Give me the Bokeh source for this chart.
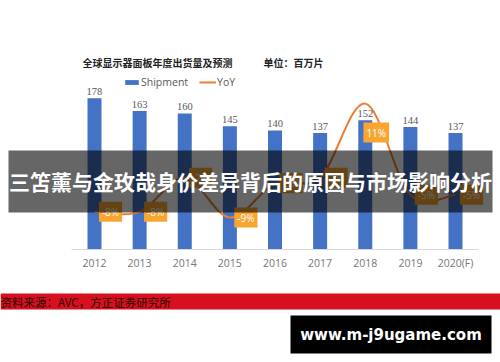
from bokeh.plotting import figure
from bokeh.models import (Range1d, FixedTicker, BoxAnnotation, Label, LabelSet,
                          ColumnDataSource, Legend, LegendItem)
from bokeh.models.glyphs import Text
from bokeh.layouts import column
from bokeh.core.properties import value
from bokeh.embed import file_html
from bokeh.resources import INLINE

# ---------------- data ----------------
years = ["2012", "2013", "2014", "2015", "2016", "2017", "2018", "2019", "2020(F)"]
shipment = [178, 163, 160, 145, 140, 137, 152, 144, 137]
yoy = [-8, -8, -2, -9, -3, -2, 11, -5, -5]

chart_title = "全球显示器面板年度出货量及预测"
unit_text = "单位：百万片"
overlay_title = "三笘薰与金玫哉身价差异背后的原因与市场影响分析"
source_text = "资料来源：AVC，方正证券研究所"
watermark = "www.m-j9ugame.com"

BLUE = "#4472C4"
ORANGE = "#ED7D31"
LABEL_ORANGE = "#F8A532"
CJK = "Noto Sans CJK SC"
LAT = "Open Sans"

xs = list(range(len(years)))

# ---------------- main chart ----------------
p = figure(width=500, height=288, output_backend="svg", toolbar_location=None,
           x_range=Range1d(-2.083, 8.997), y_range=Range1d(0, 292.9),
           y_axis_type=None, min_border_left=0, min_border_right=0,
           min_border_top=0, min_border_bottom=39, outline_line_color=None,
           background_fill_color="white", border_fill_color="white")
p.extra_y_ranges = {"yoy": Range1d(-14.6, 29.07)}
p.xgrid.grid_line_color = None
p.ygrid.grid_line_color = None

bar_src = ColumnDataSource(dict(x=xs, y=shipment, lab=[str(v) for v in shipment]))
bars = p.vbar(x="x", top="y", width=0.31, source=bar_src, fill_color=BLUE, line_color=None)

p.add_layout(LabelSet(x="x", y="y", text="lab", source=bar_src, y_offset=3,
                      text_align="center", text_baseline="bottom",
                      text_font=LAT, text_font_size="10.5px", text_color="#595959"))

# smooth YoY line (Catmull-Rom through the data points)
n = len(yoy)
x0, y0, x1, y1, cx0, cy0, cx1, cy1 = [], [], [], [], [], [], [], []
for i in range(n - 1):
    a = max(i - 1, 0)
    d = min(i + 2, n - 1)
    x0.append(xs[i]); y0.append(yoy[i])
    x1.append(xs[i + 1]); y1.append(yoy[i + 1])
    cx0.append(xs[i] + (xs[i + 1] - xs[a]) / 6.0)
    cy0.append(yoy[i] + (yoy[i + 1] - yoy[a]) / 6.0)
    cx1.append(xs[i + 1] - (xs[d] - xs[i]) / 6.0)
    cy1.append(yoy[i + 1] - (yoy[d] - yoy[i]) / 6.0)
line = p.bezier(x0=x0, y0=y0, x1=x1, y1=y1, cx0=cx0, cy0=cy0, cx1=cx1, cy1=cy1,
                y_range_name="yoy", line_color=ORANGE, line_width=2)

yoy_src = ColumnDataSource(dict(
    x=xs, y=yoy, lab=["%d%%" % v for v in yoy],
    dx=[11 if v == max(yoy) else 16 for v in yoy],
    dy=[29 if v == max(yoy) else 0 for v in yoy]))
text_kw = dict(x="x", y="y", text="lab", x_offset="dx", y_offset="dy",
               text_align="center", text_baseline="middle",
               text_font=value(LAT), text_font_size="10px", text_color="white")
if "padding" in Text.properties():
    text_kw.update(background_fill_color=LABEL_ORANGE, padding=3)
p.text(source=yoy_src, y_range_name="yoy", **text_kw)

# x axis
ax = p.xaxis[0]
ax.ticker = FixedTicker(ticks=xs)
ax.major_label_overrides = {i: y for i, y in enumerate(years)}
ax.bounds = (-0.5, 8.5)
ax.axis_line_color = "#D9D9D9"
ax.axis_line_width = 1
ax.major_tick_line_color = None
ax.minor_tick_line_color = None
ax.major_tick_out = 0
ax.major_tick_in = 0
ax.major_label_standoff = 6
ax.major_label_text_font = LAT
ax.major_label_text_font_size = "10.5px"
ax.major_label_text_color = "#767676"

# chart title + unit
p.add_layout(Label(x=82, x_units="screen", y=220, text=chart_title, text_font=CJK,
                   text_font_style="bold", text_font_size="10px", text_color="#222222",
                   text_baseline="middle"))
p.add_layout(Label(x=263, x_units="screen", y=220, text=unit_text, text_font=CJK,
                   text_font_style="bold", text_font_size="10px", text_color="#222222",
                   text_baseline="middle"))

# legend
legend = Legend(items=[LegendItem(label="Shipment", renderers=[bars]),
                       LegendItem(label="YoY", renderers=[line])],
                orientation="horizontal", location=(123, 160),
                glyph_width=17, glyph_height=6, label_standoff=1, spacing=11,
                label_height=12, label_width=10, padding=0, margin=0,
                label_text_font=LAT, label_text_font_size="10.5px",
                label_text_color="#595959", background_fill_alpha=0,
                border_line_color=None)
p.add_layout(legend)

# dark overlay band with headline
p.add_layout(BoxAnnotation(left=-1.906, right=8.82, bottom=43.5, top=116.5,
                           fill_color="black", fill_alpha=0.6, line_color=None))
p.add_layout(Label(x=250, x_units="screen", y=80, text=overlay_title, text_font=CJK,
                   text_font_style="bold", text_font_size="21px", text_color="white",
                   text_align="center", text_baseline="middle"))

# ---------------- bottom strip ----------------
p2 = figure(width=500, height=74, output_backend="svg", toolbar_location=None,
            x_range=Range1d(0, 500), y_range=Range1d(0, 74),
            x_axis_type=None, y_axis_type=None, min_border=0,
            outline_line_color=None, background_fill_color="white",
            border_fill_color="white")
p2.add_layout(BoxAnnotation(left=0, right=500, bottom=53, top=69,
                            fill_color="#D6101E", fill_alpha=1, line_color=None))
p2.add_layout(Label(x=0, y=61, text=source_text, text_font=CJK,
                    text_font_size="11.5px", text_color="#2B0606",
                    text_baseline="middle"))
p2.add_layout(BoxAnnotation(left=290, right=491, bottom=9, top=47,
                            fill_color="black", fill_alpha=1, line_color=None))
p2.add_layout(Label(x=390.5, y=28, text=watermark, text_font="DejaVu Sans",
                    text_font_style="bold", text_font_size="15px", text_color="white",
                    text_align="center", text_baseline="middle"))

layout = column(p, p2, spacing=0)
open("out.html", "w").write(file_html(layout, INLINE))
